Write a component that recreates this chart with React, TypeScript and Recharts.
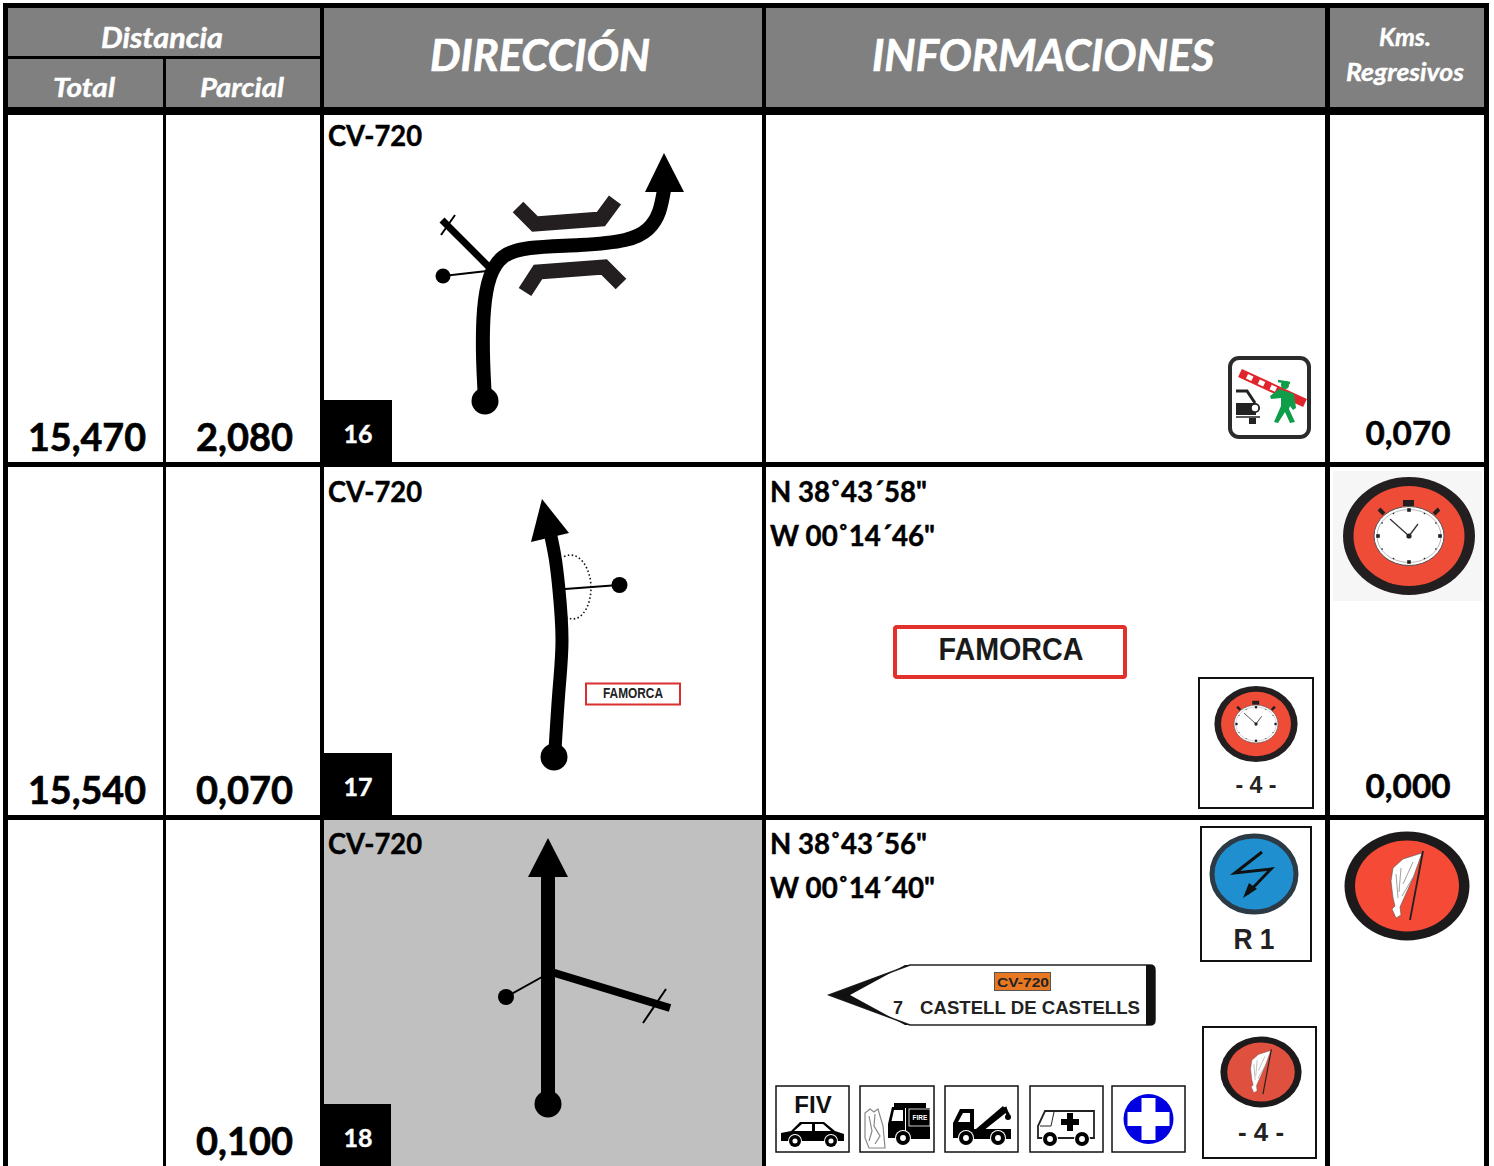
import React from 'react';
import { ComposedChart, Line, ReferenceArea, Scatter, XAxis, YAxis } from 'recharts';

const totals = ['15,470', '15,540', ''];
const partials = ['2,080', '0,070', '0,100'];
const regressive = ['0,070', '0,000', ''];
const roads = ['CV-720', 'CV-720', 'CV-720'];
const steps = ['16', '17', '18'];
const latitudes = ['', 'N 38˚43´58"', 'N 38˚43´56"'];
const longitudes = ['', 'W 00˚14´46"', 'W 00˚14´40"'];

// page layout, in picture pixels: the axes below map them 1:1
const W = 1494;
const H = 1166;
const columns = [[8, 163], [166, 320], [324, 762], [766, 1325], [1330, 1484]];
const rows = [[115, 462], [467, 815], [820, 1166]];
const rowBottoms = [462, 815, 1166];
const roadBaselines = [146, 502, 854];
const headerCells = [
  [8, 320, 8, 56], [8, 163, 59, 107], [166, 320, 59, 107],
  [324, 762, 8, 107], [766, 1325, 8, 107], [1330, 1484, 8, 107],
];

type P = { x: number; y: number };
const pts = (a: number[][]): P[] => a.map(([x, y]) => ({ x, y }));

// road sketches: width + points, drawn as line series
const routes = [
  { w: 14, curve: 'natural', p: pts([[485, 400], [483, 355], [484, 310], [490, 277], [503, 257], [530, 248], [580, 245], [625, 240], [648, 229], [659, 212], [664, 190]]) },
  { w: 7, curve: 'linear', p: pts([[442, 220], [491, 269]]) },
  { w: 2, curve: 'linear', p: pts([[455, 215], [441, 235]]) },
  { w: 2, curve: 'linear', p: pts([[443, 276], [487, 271]]) },
  { w: 15, curve: 'linear', color: '#231f20', p: pts([[518, 207], [535, 224], [601, 219], [615, 200]]) },
  { w: 15, curve: 'linear', color: '#231f20', p: pts([[525, 292], [538, 272], [604, 267], [621, 284]]) },
  { w: 13, curve: 'natural', p: pts([[555, 750], [559, 690], [562, 640], [559, 590], [555, 557], [550, 532]]) },
  { w: 2, curve: 'linear', p: pts([[565, 589], [619, 585]]) },
  { w: 14, curve: 'linear', p: pts([[548, 1104], [548, 875]]) },
  { w: 8, curve: 'linear', p: pts([[548, 971], [670, 1008]]) },
  { w: 2, curve: 'linear', p: pts([[666, 989], [643, 1023]]) },
  { w: 2, curve: 'linear', p: pts([[506, 997], [542, 977]]) },
];

const dots = [
  { x: 485, y: 401, r: 13.5 }, { x: 443, y: 276, r: 7.5 },
  { x: 554, y: 757, r: 13.5 }, { x: 619.5, y: 585, r: 8 },
  { x: 548, y: 1104, r: 13.5 }, { x: 506, y: 997, r: 8 },
];

// arrowheads: tip position and the two base corners relative to it
const heads = [
  { x: 664, y: 153, lx: -19, ly: 39, rx: 20, ry: 39 },
  { x: 542, y: 499, lx: -11, ly: 43, rx: 27, ry: 34 },
  { x: 548, y: 838, lx: -20, ly: 39, rx: 20, ry: 39 },
];

const Ink = '#000';
const Sign = "'Liberation Sans', Arial, sans-serif";
const Body = "Lato, 'Open Sans', sans-serif";

function Clock({ sx = 1, sy = 1 }: { sx?: number; sy?: number }) {
  const ticks = Array.from({ length: 12 }, (_, i) => (i * Math.PI) / 6);
  return (
    <g transform={`scale(${sx} ${sy})`}>
      <ellipse rx={66} ry={59} fill="#231f20" />
      <ellipse rx={55.5} ry={50} fill="#ef4c38" />
      <rect x={-6} y={-36} width={11} height={6} fill="#231f20" />
      <path d="M-30 -27L-25 -22M30 -27L25 -22" stroke="#231f20" strokeWidth={4} />
      <ellipse rx={35} ry={29.5} fill="#fff" stroke="#555" strokeWidth={1} />
      <ellipse rx={32} ry={26.5} fill="none" stroke="#999" strokeWidth={0.7} />
      {ticks.map((t, i) => (
        <rect
          key={i}
          x={Math.sin(t) * 31 - (i % 3 ? 0.7 : 1.8)}
          y={-Math.cos(t) * 26 - (i % 3 ? 0.7 : 1.8)}
          width={i % 3 ? 1.4 : 3.6}
          height={i % 3 ? 1.4 : 3.6}
          fill="#222"
        />
      ))}
      <path d="M0 0L-19 -17M0 0L9 -12" stroke="#333" strokeWidth={1.3} fill="none" />
      <circle r={2.6} fill="#222" />
    </g>
  );
}

function Flag({ scale = 1, red = '#f44a36' }: { scale?: number; red?: string }) {
  return (
    <g transform={`scale(${scale})`}>
      <ellipse rx={62.5} ry={54.5} fill="#1d1a1b" />
      <ellipse rx={52} ry={45.5} fill={red} />
      <path
        d="M15 -33L-4 -27L-14 -18L-16 -5L-14 12L-12 20L-15 23L-11 32L-6 29L-7 21L-3 12L6 -8Z"
        fill="#fff"
        stroke="#555"
        strokeWidth={0.6}
      />
      <path d="M-11 -12L-9 12M-6 -18L-8 6M6 -24L-4 -2M8 -12L-5 10" stroke="#888" strokeWidth={0.8} fill="none" />
      <path d="M16 -35L3 34" stroke="#222" strokeWidth={1.8} />
    </g>
  );
}

const Wheel = ({ x, y, r = 7.5 }: { x: number; y: number; r?: number }) => (
  <g>
    <circle cx={x} cy={y} r={r + 1} fill="#fff" />
    <circle cx={x} cy={y} r={r} fill="#000" />
    <circle cx={x} cy={y} r={r * 0.42} fill="#fff" />
  </g>
);

const BoxFrame = ({ w, h, sw = 1.5 }: { w: number; h: number; sw?: number }) => (
  <rect x={0} y={0} width={w} height={h} fill="#fff" stroke="#111" strokeWidth={sw} />
);

// pictograms: each one is placed by the scale at its top-left corner or centre
const icons: Record<string, () => React.ReactElement> = {
  customs: () => (
    <g>
      <rect x={2} y={2} width={79} height={79} rx={9} fill="#fff" stroke="#2b2b2b" strokeWidth={4} />
      <path d="M12 17L77 47" stroke="#e0262c" strokeWidth={9} />
      <path d="M19 20.2L48 33.6" stroke="#fff" strokeWidth={5} strokeDasharray="6 7" />
      <path d="M8 35H19L27 47" stroke="#222" strokeWidth={3} fill="none" />
      <rect x={8} y={47} width={20} height={12} fill="#222" />
      <circle cx={27} cy={52} r={5} fill="#222" />
      <circle cx={27} cy={52} r={3.2} fill="#fff" />
      <path d="M8 61H32" stroke="#222" strokeWidth={1.5} />
      <rect x={21} y={62} width={7} height={6} fill="#222" />
      <path d="M51 33L66 38L68 52L65 54L62 50L61 53L67 66L62 67L57 56L50 67L46 66L53 50L53 42L43 43L42 40Z" fill="#0f9d4a" />
      <circle cx={57} cy={29} r={4} fill="#0f9d4a" />
      <path d="M50 25L62 27" stroke="#0f9d4a" strokeWidth={2.5} />
    </g>
  ),
  clockBig: () => (
    <g>
      <rect x={-76} y={-65} width={149} height={130} fill="#f6f6f6" />
      <Clock />
    </g>
  ),
  clockSmall: () => <Clock sx={0.63} sy={0.645} />,
  flagBig: () => <Flag />,
  flagSmall: () => <Flag scale={0.65} red="#e0503e" />,
  famorca: () => (
    <rect x={0} y={0} width={230} height={50} rx={2} fill="#fff" stroke="#e1312a" strokeWidth={4} />
  ),
  famorcaSmall: () => <rect x={0} y={0} width={94} height={21} fill="#fff" stroke="#d9302f" strokeWidth={2} />,
  ellipse: () => (
    <path
      d="M-12 -31C4 -38 15 -18 15 0C15 20 4 38 -11 29"
      fill="none"
      stroke="#111"
      strokeWidth={1.6}
      strokeDasharray="1.5 2.4"
    />
  ),
  boxClock: () => <BoxFrame w={114} h={130} sw={2} />,
  boxR1: () => <BoxFrame w={110} h={134} sw={2} />,
  boxFlag: () => <BoxFrame w={113} h={131} sw={2} />,
  lightning: () => (
    <g>
      <ellipse rx={42} ry={38} fill="#1f8fcf" stroke="#2b3a44" strokeWidth={5} />
      <path d="M8 -22L-19 -1L17 -5L-7 20" fill="none" stroke="#111" strokeWidth={3} />
      <path d="M-11 24L-5 9L3 15Z" fill="#111" />
    </g>
  ),
  arrowSign: () => (
    <g>
      <path d="M0 30L81 0H321Q326 0 326 5V55Q326 60 321 60H81Z" fill="#fff" stroke="#222" strokeWidth={1.5} />
      <path d="M0 30L81 0H76L21 30L76 60H81Z" fill="#111" />
      <path d="M317 0H322Q326 0 326 5V55Q326 60 322 60H317Z" fill="#111" />
      <rect x={165.5} y={7.5} width={56} height={18} fill="#e87722" stroke="#555" strokeWidth={1} />
    </g>
  ),
  fiv: () => (
    <g>
      <BoxFrame w={73} h={66} />
      <path d="M5 55V47L15 45L24 36H48L59 45L68 48V55Z" fill="#000" />
      <path d="M18 45L26 38H36V45ZM39 38H47L55 45H39Z" fill="#fff" />
      <Wheel x={19} y={55} r={6} />
      <Wheel x={55} y={55} r={6} />
    </g>
  ),
  fire: () => (
    <g>
      <BoxFrame w={74} h={66} />
      <path
        d="M5 27L10 23L14 26L18 23L23 40L25 62L9 62L5 52Z M9 30L12 45L9 55 M15 28L14 40L20 50L15 58"
        fill="#fff"
        stroke="#888"
        strokeWidth={1.2}
      />
      <path d="M28 38L32 21H45V52H28Z" fill="#000" />
      <path d="M31.5 35L34 24H43V35Z" fill="#fff" />
      <rect x={46} y={22} width={24} height={31} fill="#000" />
      <rect x={34} y={17} width={32} height={5} fill="#000" />
      <rect x={49} y={23} width={21} height={17} fill="#000" stroke="#fff" strokeWidth={0.8} />
      <text x={60} y={34} textAnchor="middle" fill="#fff" fontFamily={Sign} fontWeight={700} fontSize={6.5}>
        FIRE
      </text>
      <Wheel x={43} y={52} r={7} />
    </g>
  ),
  tow: () => (
    <g>
      <BoxFrame w={73} h={66} />
      <path d="M8 52V37L15 23H29V52Z" fill="#000" />
      <path d="M13 36L18 27H25V36Z" fill="#fff" />
      <rect x={29} y={43} width={37} height={10} fill="#000" />
      <path d="M31 43L58 20L62 26L38 45Z" fill="#000" />
      <path d="M60 21Q62 28 64 29" stroke="#000" strokeWidth={3} fill="none" />
      <circle cx={63} cy={31} r={3} fill="#000" />
      <Wheel x={21} y={52} r={7} />
      <Wheel x={53} y={52} r={7} />
    </g>
  ),
  ambulance: () => (
    <g>
      <BoxFrame w={73} h={66} />
      <path d="M8 52V40L15 25H64V52Z" fill="#fff" stroke="#222" strokeWidth={1.8} />
      <path d="M10 40H21L24 26" stroke="#222" strokeWidth={1} fill="none" />
      <path d="M37 27H43V33H49V39H43V45H37V39H31V33H37Z" fill="#000" />
      <Wheel x={20} y={53} r={7} />
      <Wheel x={52} y={53} r={7} />
    </g>
  ),
  crossSign: () => (
    <g>
      <BoxFrame w={73} h={66} />
      <circle cx={36.5} cy={33} r={25} fill="#0000e0" />
      <path d="M29.5 12H43.5V26H57.5V40H43.5V54H29.5V40H15.5V26H29.5Z" fill="#fff" />
    </g>
  ),
};

const placedIcons = [
  { x: 1228, y: 356, kind: 'customs' },
  { x: 1409, y: 536, kind: 'clockBig' },
  { x: 895, y: 627, kind: 'famorca' },
  { x: 586, y: 683.5, kind: 'famorcaSmall' },
  { x: 576, y: 587.5, kind: 'ellipse' },
  { x: 1199, y: 678, kind: 'boxClock' },
  { x: 1256, y: 724, kind: 'clockSmall' },
  { x: 1201, y: 827, kind: 'boxR1' },
  { x: 1254, y: 874, kind: 'lightning' },
  { x: 1203, y: 1027, kind: 'boxFlag' },
  { x: 1261, y: 1072, kind: 'flagSmall' },
  { x: 1407, y: 886, kind: 'flagBig' },
  { x: 829, y: 965, kind: 'arrowSign' },
  { x: 776, y: 1086, kind: 'fiv' },
  { x: 860, y: 1086, kind: 'fire' },
  { x: 945, y: 1086, kind: 'tow' },
  { x: 1030, y: 1086, kind: 'ambulance' },
  { x: 1112, y: 1086, kind: 'crossSign' },
];

type Label = P & {
  text: string; size: number; color?: string; italic?: boolean; anchor?: string;
  font?: string; len?: number;
};

const white = { color: '#fff', italic: true };
const labels: Label[] = [
  { x: 162, y: 48, text: 'Distancia', size: 29, len: 122, ...white },
  { x: 84, y: 97, text: 'Total', size: 27, len: 62, ...white },
  { x: 242, y: 97, text: 'Parcial', size: 27, len: 84, ...white },
  { x: 540, y: 71, text: 'DIRECCIÓN', size: 43, len: 220, ...white },
  { x: 1043, y: 71, text: 'INFORMACIONES', size: 43, len: 342, ...white },
  { x: 1405, y: 46, text: 'Kms.', size: 24, len: 52, ...white },
  { x: 1405, y: 81, text: 'Regresivos', size: 24, len: 118, ...white },
  { x: 1011, y: 660, text: 'FAMORCA', size: 32, font: Sign, color: '#1a1a1a', len: 145 },
  { x: 633, y: 698, text: 'FAMORCA', size: 14.5, font: Sign, color: '#222', len: 60 },
  { x: 1256, y: 793, text: '- 4 -', size: 24, font: Sign, color: '#222', len: 41 },
  { x: 1261, y: 1141, text: '- 4 -', size: 26, font: Sign, color: '#222', len: 46 },
  { x: 1254, y: 949, text: 'R 1', size: 29, font: Sign, color: '#222', len: 41 },
  { x: 1023, y: 987, text: 'CV-720', size: 12.5, font: Sign, color: '#222', len: 52 },
  { x: 898, y: 1014, text: '7', size: 18, font: Sign, color: '#222' },
  { x: 1030, y: 1014, text: 'CASTELL DE CASTELLS', size: 19, font: Sign, color: '#222', len: 220 },
  { x: 813, y: 1113, text: 'FIV', size: 24, font: Sign, color: '#111' },
];

// table cells come from the value lists at the top
rowBottoms.forEach((bottom, i) => {
  const row = rows[i];
  if (totals[i]) labels.push({ x: 87, y: bottom - 11, text: totals[i], size: 37.5, len: 118 });
  labels.push({ x: 244.5, y: bottom - 11, text: partials[i], size: 37.5, len: 97 });
  if (regressive[i]) labels.push({ x: 1408, y: bottom - 17, text: regressive[i], size: 33, len: 85 });
  labels.push({ x: 328, y: roadBaselines[i], text: roads[i], size: 28.5, anchor: 'start', len: 94 });
  labels.push({ x: 358, y: bottom - 19.5, text: steps[i], size: 25, color: '#fff' });
  if (latitudes[i]) {
    const top = i === 1 ? row[0] + 35 : row[0] + 34;
    labels.push({ x: 770, y: top, text: latitudes[i], size: 28.5, anchor: 'start', len: 157 });
    labels.push({ x: 770, y: top + 44, text: longitudes[i], size: 28.5, anchor: 'start', len: 165 });
  }
});

const Hidden = { hide: true };

export default function App() {
  return (
    <div style={{ position: 'absolute', left: 0, top: 0, width: W, height: H, background: '#fff' }}>
      <ComposedChart width={W} height={H} margin={{ top: 0, right: 0, bottom: 0, left: 0 }}>
        <XAxis {...Hidden} type="number" dataKey="x" domain={[0, W]} />
        <YAxis {...Hidden} type="number" dataKey="y" domain={[0, H]} reversed />

        <ReferenceArea x1={3} x2={1489} y1={3} y2={H} fill="#000" fillOpacity={1} />
        {headerCells.map(([x1, x2, y1, y2], i) => (
          <ReferenceArea key={i} x1={x1} x2={x2} y1={y1} y2={y2} fill="#808080" fillOpacity={1} />
        ))}
        {rows.map(([y1, y2], r) =>
          columns.map(([x1, x2], c) => (
            <ReferenceArea
              key={`${r}-${c}`}
              x1={x1}
              x2={x2}
              y1={y1}
              y2={y2}
              fill={r === 2 && c === 2 ? '#c0c0c0' : '#fff'}
              fillOpacity={1}
            />
          )),
        )}
        {rowBottoms.map((bottom, i) => (
          <ReferenceArea key={i} x1={324} x2={i === 2 ? 391 : 392} y1={bottom - 62} y2={bottom} fill="#000" fillOpacity={1} />
        ))}

        {routes.map((r, i) => (
          <Line
            key={i}
            data={r.p}
            dataKey="y"
            type={r.curve as 'linear'}
            stroke={r.color ?? Ink}
            strokeWidth={r.w}
            strokeLinejoin="miter"
            dot={false}
            activeDot={false}
            legendType="none"
            isAnimationActive={false}
          />
        ))}
        <Scatter
          data={dots}
          isAnimationActive={false}
          shape={(p: any) => <circle cx={p.cx} cy={p.cy} r={p.payload.r} fill={Ink} />}
        />
        <Scatter
          data={heads}
          isAnimationActive={false}
          shape={(p: any) => {
            const { lx, ly, rx, ry } = p.payload;
            return <path d={`M${p.cx} ${p.cy}L${p.cx + lx} ${p.cy + ly}L${p.cx + rx} ${p.cy + ry}Z`} fill={Ink} />;
          }}
        />
        <Scatter
          data={placedIcons}
          isAnimationActive={false}
          shape={(p: any) => {
            const Icon = icons[p.payload.kind];
            return <g transform={`translate(${p.cx} ${p.cy})`}><Icon /></g>;
          }}
        />
        <Scatter
          data={labels}
          isAnimationActive={false}
          shape={(p: any) => {
            const l: Label = p.payload;
            const color = l.color ?? '#000';
            return (
              <text
                x={p.cx}
                y={p.cy}
                fill={color}
                stroke={l.font ? 'none' : color}
                strokeWidth={l.font ? 0 : l.size * 0.016}
                fontFamily={l.font ?? Body}
                fontSize={l.size}
                fontWeight={700}
                fontStyle={l.italic ? 'italic' : 'normal'}
                textAnchor={(l.anchor ?? 'middle') as 'middle'}
                textLength={l.len}
                lengthAdjust={l.len ? 'spacingAndGlyphs' : undefined}
              >
                {l.text}
              </text>
            );
          }}
        />
      </ComposedChart>
    </div>
  );
}
